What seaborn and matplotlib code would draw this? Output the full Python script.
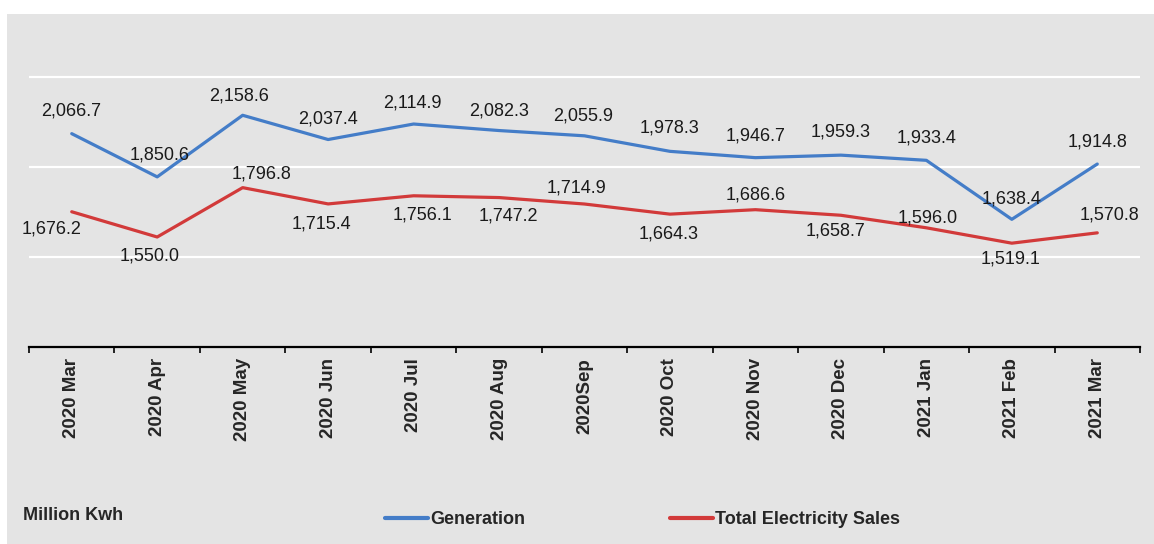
import numpy as np
import pandas as pd
import matplotlib
matplotlib.use("Agg")
import matplotlib.pyplot as plt
from matplotlib.patches import Rectangle
import seaborn as sns

months = ["2020 Mar", "2020 Apr", "2020 May", "2020 Jun", "2020 Jul", "2020 Aug",
          "2020Sep", "2020 Oct", "2020 Nov", "2020 Dec", "2021 Jan", "2021 Feb", "2021 Mar"]
generation = [2066.7, 1850.6, 2158.6, 2037.4, 2114.9, 2082.3, 2055.9,
              1978.3, 1946.7, 1959.3, 1933.4, 1638.4, 1914.8]
sales = [1676.2, 1550.0, 1796.8, 1715.4, 1756.1, 1747.2, 1714.9,
         1664.3, 1686.6, 1658.7, 1596.0, 1519.1, 1570.8]

# label offsets in pixels (dx, dy)
gen_off = [(-1, 23), (2, 22), (-4, 19), (0, 21), (-1, 21), (0, 20), (-1, 20),
           (0, 23), (0, 22), (0, 23), (0, 22), (0, 20), (0, 22)]
sales_off = [(-20, -17), (-8, -19), (19, 14), (-7, -20), (9, -19), (9, -18), (-8, 16),
             (-1, -20), (0, 15), (-5, -16), (1, 10), (-1, -16), (12, 18)]

bg = "#e4e4e4"
blue = "#447dc8"
red = "#d23a3a"

sns.set_style("white")
plt.rcParams["font.family"] = ["Liberation Sans", "DejaVu Sans"]

df = pd.DataFrame({
    "x": list(range(len(months))) * 2,
    "value": generation + sales,
    "series": ["Generation"] * len(months) + ["Total Electricity Sales"] * len(months),
})

fig = plt.figure(figsize=(11.54, 5.44), dpi=100)
fig.patch.set_facecolor("white")
fig.patches.append(Rectangle((7 / 1154, 0), 1 - 7 / 1154, 1 - 14 / 544,
                             transform=fig.transFigure, facecolor=bg,
                             edgecolor="none", zorder=-10))

ax = fig.add_axes([29 / 1154, 1 - 347 / 544, 1111 / 1154, 330 / 544])
ax.set_facecolor("none")

sns.lineplot(data=df, x="x", y="value", hue="series",
             palette={"Generation": blue, "Total Electricity Sales": red},
             linewidth=2.3, ax=ax, legend=False)

ax.set_xlim(-0.5, len(months) - 0.5)
ax.set_ylim(1000, 2650)
ax.set_yticks([1000, 1450, 1900, 2350])
ax.yaxis.grid(True, color="white", linewidth=1.6)
ax.set_axisbelow(True)
ax.tick_params(axis="y", left=False, labelleft=False)
ax.set_xlabel("")
ax.set_ylabel("")

ax.set_xticks(range(len(months)))
ax.set_xticklabels(months, rotation=90, fontweight="bold", fontsize=13.5, va="top")
ax.set_xticks(np.arange(-0.5, len(months)), minor=True)
ax.tick_params(axis="x", which="major", bottom=True, length=0, pad=8)
ax.tick_params(axis="x", which="minor", bottom=True, length=4, width=1.2,
               color="black", direction="out")

for s in ["left", "right", "top"]:
    ax.spines[s].set_visible(False)
ax.spines["bottom"].set_color("black")
ax.spines["bottom"].set_linewidth(1.6)

for i, (v, o) in enumerate(zip(generation, gen_off)):
    ax.annotate(f"{v:,.1f}", (i, v), xytext=o, textcoords="offset pixels",
                ha="center", va="center", fontsize=13, color="#1a1a1a")
for i, (v, o) in enumerate(zip(sales, sales_off)):
    ax.annotate(f"{v:,.1f}", (i, v), xytext=o, textcoords="offset pixels",
                ha="center", va="center", fontsize=13, color="#1a1a1a")

fig.text(23 / 1154, 1 - 516 / 544, "Million Kwh", fontsize=13, fontweight="bold",
         ha="left", va="center")

handles = [plt.Line2D([], [], color=blue, linewidth=3),
           plt.Line2D([], [], color=red, linewidth=3)]
fig.legend(handles, ["Generation", "Total Electricity Sales"], ncol=2,
           loc="center left", bbox_to_anchor=(385 / 1154, 1 - 520 / 544),
           frameon=False, borderpad=0, borderaxespad=0, handlelength=2.4,
           handletextpad=0.1, columnspacing=8.0,
           prop={"weight": "bold", "size": 13})

fig.savefig("out.png", dpi=100)
